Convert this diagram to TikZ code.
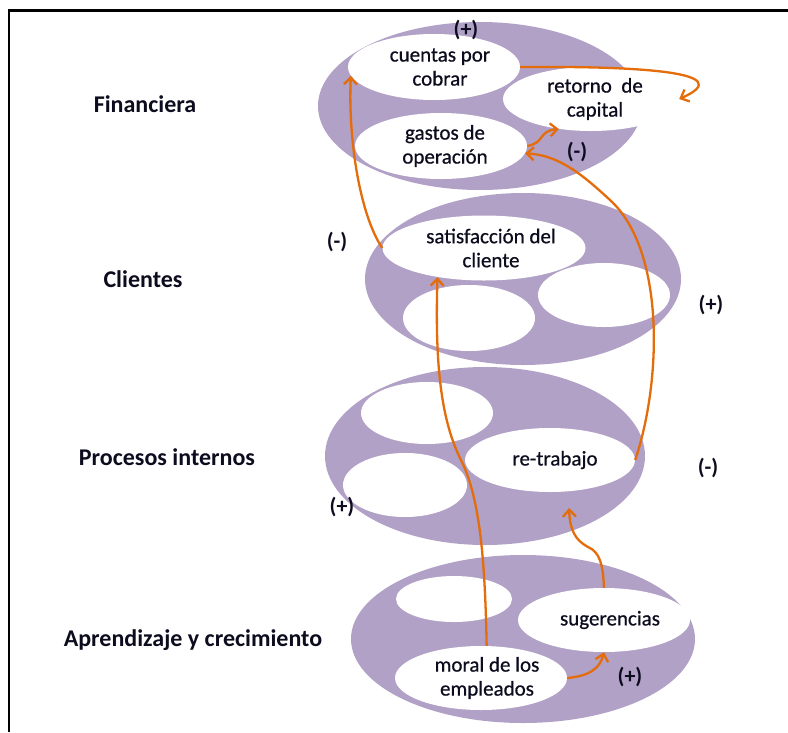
\documentclass[tikz,border=0pt]{standalone}
\usepackage{fontspec}
\setmainfont{Carlito}
\usetikzlibrary{shapes.geometric,arrows.meta}
\definecolor{lav}{RGB}{178,161,199}
\definecolor{org}{RGB}{228,108,10}
\definecolor{ink}{RGB}{12,12,30}
\newcommand{\wfont}{\fontsize{21}{24}\selectfont\addfontfeature{FakeBold=0.6}}
\newcommand{\lfont}{\fontsize{24}{28}\selectfont\bfseries}
\newcommand{\sfont}{\fontsize{22}{26}\selectfont\bfseries}
\newcommand{\rs}[1]{\hspace*{#1pt}}
\tikzset{
  big/.style={ellipse, fill=lav, draw=none, inner sep=0pt},
  wel/.style={ellipse, fill=white, draw=none, inner sep=0pt, align=center, font=\wfont, text=ink},
  lab/.style={font=\lfont, text=ink, inner sep=0pt},
  sgn/.style={font=\sfont, text=ink, inner sep=0pt},
  arr/.style={draw=org, line width=2.3pt, -{Straight Barb[length=7pt,width=13pt]}},
  frame/.style={line width=2.3pt, black}
}
\begin{document}
\begin{tikzpicture}[x=1pt,y=-1pt]
\useasboundingbox (0,0) rectangle (788,732);
\coordinate (fa) at (9,732);
\coordinate (fb) at (9,10.5);
\coordinate (fc) at (788,10.5);
\draw[frame] (fa) -- (fb) -- (fc);

% big ellipses
\node[big, minimum width=324pt, minimum height=168pt] (F) at (480,106) {};
\node[big, minimum width=316pt, minimum height=172pt] (C) at (523,279) {};
\node[big, minimum width=320pt, minimum height=178pt] (P) at (485,456) {};
\node[big, minimum width=344pt, minimum height=168pt] (A) at (523,639) {};

% white ellipses
\node[wel, minimum width=172pt, minimum height=66pt] (cxc) at (434,67) {\rs{12}cuentas por\\\rs{12}cobrar};
\node[wel, minimum width=176pt, minimum height=64pt] (ret) at (591,99) {\rs{8}retorno\ \ de\\\rs{8}capital};
\node[wel, minimum width=172pt, minimum height=66pt] (gas) at (441,146) {\rs{8}gastos de\\\rs{8}operación};
\node[wel, minimum width=172pt, minimum height=65pt] (sat) at (484,248) {\rs{14}satisfacción del\\\rs{14}cliente};
\node[wel, minimum width=132pt, minimum height=66pt] (cb1) at (469,318) {};
\node[wel, minimum width=132pt, minimum height=64pt] (cb2) at (604,295) {};
\node[wel, minimum width=132pt, minimum height=62pt] (pb1) at (427,413) {};
\node[wel, minimum width=124pt, minimum height=64pt] (pb2) at (405,485) {};
\node[wel, minimum width=170pt, minimum height=64pt] (rt) at (550,460) {\rs{10}re-trabajo};
\node[wel, minimum width=116pt, minimum height=46pt] (ab1) at (454,599) {};
\node[wel, minimum width=172pt, minimum height=64pt] (sug) at (604,620) {\rs{12}sugerencias};
\node[wel, minimum width=172pt, minimum height=64pt] (mor) at (481,678) {\rs{12}moral de los\\\rs{12}empleados};

% left labels
\node[lab] (lF) at (145,104) {Financiera};
\node[lab] (lC) at (143,279) {Clientes};
\node[lab] (lP) at (167,457) {Procesos internos};
\node[lab] (lA) at (193,640) {Aprendizaje y crecimiento};

% signs
\node[sgn] (s1) at (466,30) {(+)};
\node[sgn] (s2) at (577,152) {(-)};
\node[sgn] (s3) at (337,242) {(-)};
\node[sgn] (s4) at (711,305) {(+)};
\node[sgn] (s5) at (342,507) {(+)};
\node[sgn] (s6) at (708,468) {(-)};
\node[sgn] (s7) at (630,677) {(+)};

% connectors
\coordinate (rtin) at (569,508);
\draw[arr] (sat.180) .. controls (360,215) and (348,140) .. (cxc.186);
\draw[arr] (cxc.0) .. controls (640,66) and (740,72) .. (ret.0);
\draw[arr] (gas.east) .. controls (545,143) and (538,131) .. (ret.223);
\draw[arr] (rt.0) .. controls (662,380) and (665,250) .. (610,200) .. controls (585,177) and (560,155) .. (gas.355);
\draw[arr] (mor.80) .. controls (485,560) and (480,500) .. (462,462) .. controls (440,420) and (435,360) .. (sat.212);
\draw[arr] (sug.north) .. controls (603,565) and (600,552) .. (588,547) .. controls (575,540) and (570,530) .. (rtin);
\draw[arr] (mor.east) .. controls (590,676) and (600,668) .. (sug.south);
\end{tikzpicture}
\end{document}
